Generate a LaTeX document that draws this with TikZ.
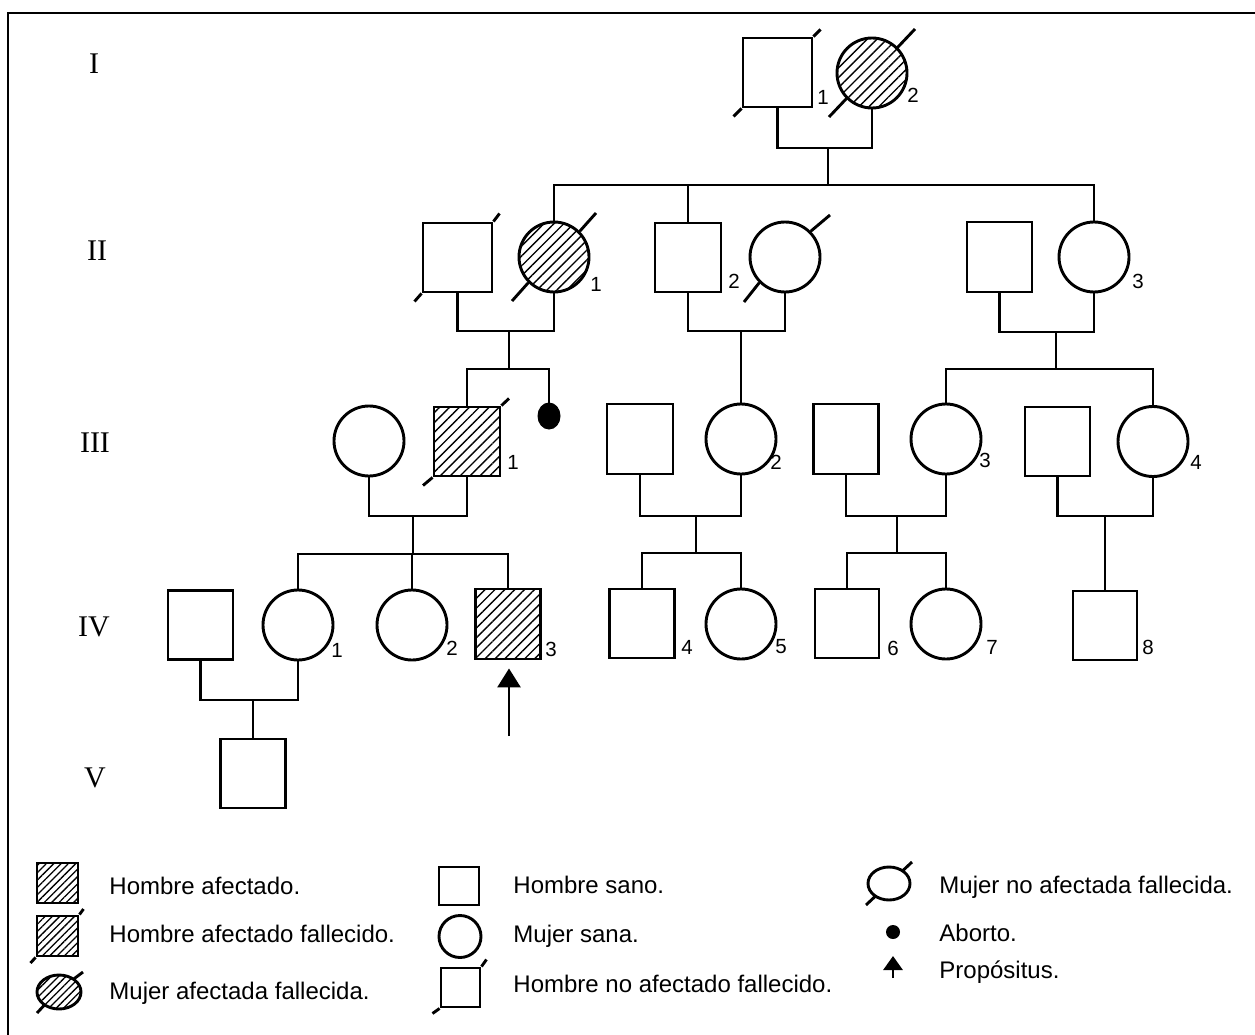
\documentclass[tikz,border=0pt]{standalone}
\usepackage{fontspec}
\setmainfont{Liberation Sans}
\newfontfamily\romfont{Liberation Serif}
\usetikzlibrary{patterns.meta,arrows.meta,shapes.geometric}
\begin{document}
\begin{tikzpicture}[x=1pt,y=-1pt,
  lw/.style={line width=2.9pt},
  male/.style={draw,lw,rectangle,inner sep=0pt,minimum width=66pt,minimum height=69pt},
  female/.style={draw,lw,circle,inner sep=0pt,minimum size=70pt},
  aff/.style={pattern={Lines[angle=45,distance=7pt,line width=1.4pt]}},
  laff/.style={pattern={Lines[angle=45,distance=5.2pt,line width=1.3pt]}},
  num/.style={font=\fontsize{20.5}{22}\selectfont,inner sep=0pt},
  gen/.style={font=\romfont\fontsize{30}{32}\selectfont,inner sep=0pt},
  leg/.style={font=\fontsize{24}{26}\selectfont,anchor=base west,inner sep=0pt},
  every path/.style={lw}
]
\useasboundingbox (0,0) rectangle (1255,1035);
\draw (8,1035) -- (8,13) -- (1255,13);

% generation labels
\node[gen] (gI) at (94,64) {I};
\node[gen] (gII) at (97,251) {II};
\node[gen] (gIII) at (95,443) {III};
\node[gen] (gIV) at (94,627) {IV};
\node[gen] (gV) at (95,778) {V};

% Generation I
\node[male,minimum width=69pt] (I1) at (777.5,72.5) {};
\node[female,aff] (I2) at (872,73) {};
\draw (I1.south west) -- ([shift={(-44,44)}]I1.center);
\draw (I1.north east) -- ([shift={(43,-43)}]I1.center);
\draw (I2.south west) -- ([shift={(-43,44)}]I2.center);
\draw (I2.north east) -- ([shift={(43,-44)}]I2.center);
\node[num] (nI1) at (823,97) {1};
\node[num] (nI2) at (913,95) {2};

% Generation II
\node[male,minimum width=69pt] (II1h) at (457.5,257.5) {};
\node[female,aff] (II1) at (554,257) {};
\node[male] (II2) at (688,257.5) {};
\node[female] (II2w) at (785,257) {};
\node[male,minimum width=65pt,minimum height=70pt] (II3h) at (999.5,257) {};
\node[female] (II3) at (1094,257) {};
\draw (II1h.south west) -- ([shift={(-43,44)}]II1h.center);
\draw (II1h.north east) -- ([shift={(42,-44)}]II1h.center);
\draw (II1.south west) -- ([shift={(-42,44)}]II1.center);
\draw (II1.north east) -- ([shift={(42,-44)}]II1.center);
\draw (II2w.south west) -- ([shift={(-41,45)}]II2w.center);
\draw (II2w.north east) -- ([shift={(45,-42)}]II2w.center);
\node[num] (nII1) at (596,284) {1};
\node[num] (nII2) at (734,281) {2};
\node[num] (nII3) at (1138,281) {3};

% Generation III
\node[female] (III1w) at (369,441) {};
\node[male,aff] (III1) at (467,441.5) {};
\node[draw,fill=black,ellipse,inner sep=0pt,minimum width=22pt,minimum height=26pt,line width=1pt] (ab) at (549,416) {};
\node[male,minimum height=70pt] (III2h) at (640,439) {};
\node[female] (III2) at (741,439) {};
\node[male,minimum width=65pt,minimum height=70pt] (III3h) at (846,439) {};
\node[female] (III3) at (946,439) {};
\node[male,minimum width=65pt] (III4h) at (1057.5,441.5) {};
\node[female] (III4) at (1153,441.5) {};
\draw (III1.south west) -- ([shift={(-44,44)}]III1.center);
\draw (III1.north east) -- ([shift={(42,-43)}]III1.center);
\node[num] (nIII1) at (513,462) {1};
\node[num] (nIII2) at (776,462) {2};
\node[num] (nIII3) at (985,460) {3};
\node[num] (nIII4) at (1196,462) {4};

% Generation IV
\node[male,minimum width=65pt] (IV1h) at (200.5,625) {};
\node[female] (IV1) at (298,625) {};
\node[female] (IV2) at (412,625) {};
\node[male,minimum width=65pt,minimum height=70pt,aff] (IV3) at (508,624) {};
\node[male,minimum width=65pt] (IV4) at (642,623.5) {};
\node[female] (IV5) at (741,624) {};
\node[male,minimum width=64pt] (IV6) at (847,623.5) {};
\node[female] (IV7) at (946,624) {};
\node[male,minimum width=64pt] (IV8) at (1105,625.5) {};
\node[num] (nIV1) at (337,650) {1};
\node[num] (nIV2) at (452,648) {2};
\node[num] (nIV3) at (551,649) {3};
\node[num] (nIV4) at (687,647) {4};
\node[num] (nIV5) at (781,647) {5};
\node[num] (nIV6) at (893,648) {6};
\node[num] (nIV7) at (992,647) {7};
\node[num] (nIV8) at (1148,647) {8};
\coordinate (pa) at (509,736);
\draw[-{Triangle[width=23pt,length=19pt]}] (pa) -- ([shift={(1,8)}]IV3.south);

% Generation V
\node[male,minimum width=65pt] (V) at (253,773.5) {};

% connectors
\coordinate (mI) at (828,148);
\coordinate (sII) at (828,185);
\draw (I1.south) |- (mI) -| (I2.south);
\draw (mI) -- (sII);
\draw (II1.north) |- (sII) -| (II3.north);
\draw (II2.north) -- (II2.north |- sII);

\coordinate (mII1) at (509,331);
\coordinate (sIII1) at (509,369);
\draw (II1h.south) |- (mII1) -| (II1.south);
\draw (mII1) -- (sIII1);
\draw (III1.north) |- (sIII1) -| (ab.north);

\coordinate (mII2) at (741,331);
\draw (II2.south) |- (mII2) -| (II2w.south);
\draw (mII2) -- (III2.north);

\coordinate (mII3) at (1056,332);
\coordinate (sIII3) at (1056,369);
\draw (II3h.south) |- (mII3) -| (II3.south);
\draw (mII3) -- (sIII3);
\draw (III3.north) |- (sIII3) -| (III4.north);

\coordinate (mIII1) at (413,516);
\coordinate (sIV1) at (413,554);
\draw (III1w.south) |- (mIII1) -| (III1.south);
\draw (mIII1) -- (sIV1);
\draw (IV1.north) |- (sIV1) -| (IV3.north);
\draw (IV2.north) -- (IV2.north |- sIV1);

\coordinate (mIII2) at (696,516);
\coordinate (sIV2) at (696,553);
\draw (III2h.south) |- (mIII2) -| (III2.south);
\draw (mIII2) -- (sIV2);
\draw (IV4.north) |- (sIV2) -| (IV5.north);

\coordinate (mIII3) at (897,516);
\coordinate (sIV3) at (897,553);
\draw (III3h.south) |- (mIII3) -| (III3.south);
\draw (mIII3) -- (sIV3);
\draw (IV6.north) |- (sIV3) -| (IV7.north);

\coordinate (mIII4) at (1105,516);
\draw (III4h.south) |- (mIII4) -| (III4.south);
\draw (mIII4) -- (IV8.north);

\coordinate (mIV1) at (253,700);
\draw (IV1h.south) |- (mIV1) -| (IV1.south);
\draw (mIV1) -- (V.north);

% Legend
\node[draw,rectangle,inner sep=0pt,minimum width=41pt,minimum height=40pt,laff] (L1) at (57.5,883) {};
\node[leg] (T1) at (108,894.5) {Hombre afectado.};
\node[draw,rectangle,inner sep=0pt,minimum width=41pt,minimum height=40pt,laff] (L2) at (57.5,936) {};
\draw (L2.south west) -- ([shift={(-27,27)}]L2.center);
\draw (L2.north east) -- ([shift={(26,-27)}]L2.center);
\node[leg] (T2) at (108,942) {Hombre afectado fallecido.};
\node[draw,ellipse,inner sep=0pt,minimum width=44pt,minimum height=34pt,laff] (L3) at (59,992) {};
\draw ([shift={(-14.4,12.8)}]L3.center) -- ([shift={(-22,21)}]L3.center);
\draw ([shift={(14.4,-12.8)}]L3.center) -- ([shift={(24,-20)}]L3.center);
\node[leg] (T3) at (108,999.5) {Mujer afectada fallecida.};

\node[draw,rectangle,inner sep=0pt,minimum width=40pt,minimum height=38pt] (L4) at (459,886) {};
\node[leg] (T4) at (512,893.5) {Hombre sano.};
\node[draw,circle,inner sep=0pt,minimum size=42pt] (L5) at (460,936.5) {};
\node[leg] (T5) at (512,942.5) {Mujer sana.};
\node[draw,rectangle,inner sep=0pt,minimum width=39pt,minimum height=39pt] (L6) at (460.5,987.5) {};
\draw (L6.south west) -- ([shift={(-28,26)}]L6.center);
\draw (L6.north east) -- ([shift={(26,-28)}]L6.center);
\node[leg] (T6) at (512,992.5) {Hombre no afectado fallecido.};

\node[draw,ellipse,inner sep=0pt,minimum width=42pt,minimum height=33pt] (L7) at (889,883.5) {};
\draw ([shift={(-13.5,12.6)}]L7.center) -- ([shift={(-23,21.5)}]L7.center);
\draw ([shift={(13.5,-12.6)}]L7.center) -- ([shift={(23,-21.5)}]L7.center);
\node[leg] (T7) at (938,893.5) {Mujer no afectada fallecida.};
\node[circle,fill=black,inner sep=0pt,minimum size=14pt] (L8) at (893,932) {};
\node[leg] (T8) at (938,941.5) {Aborto.};
\coordinate (L9a) at (893,978);
\coordinate (L9b) at (893,956);
\draw[-{Triangle[width=19pt,length=14pt]}] (L9a) -- (L9b);
\node[leg] (T9) at (938,978.5) {Propósitus.};
\end{tikzpicture}
\end{document}
